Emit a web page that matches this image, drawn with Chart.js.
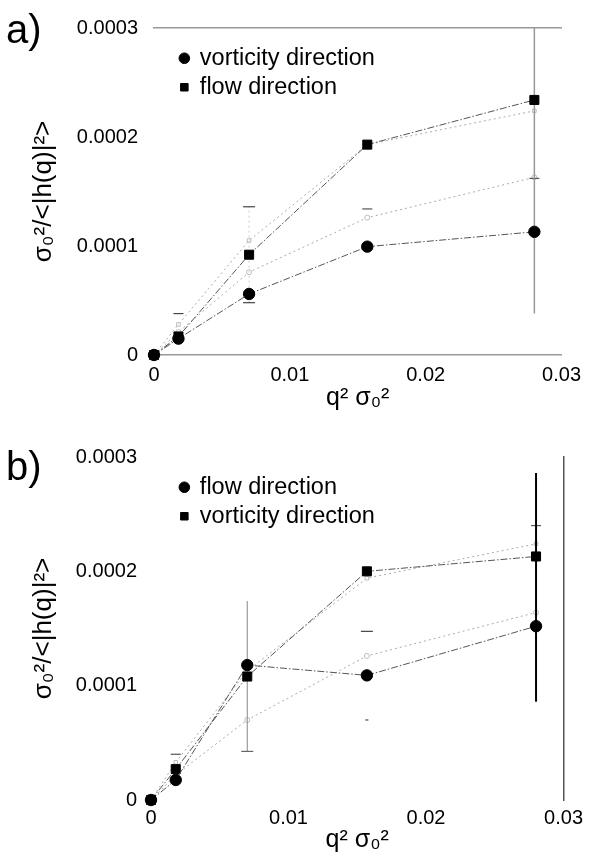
<!DOCTYPE html>
<html>
<head>
<meta charset="utf-8">
<script src="https://cdn.jsdelivr.net/npm/chart.js@4.4.1/dist/chart.umd.min.js"></script>
<style>
  body { margin: 0; background: #fff; }
  #page { position: relative; width: 589px; height: 862px; }
  .panel { position: absolute; left: 0; width: 589px; height: 431px; }
  .tag { position: absolute; font: 40px "Liberation Sans", Arial, sans-serif; line-height: 40px; color: #000; }
</style>
</head>
<body>
<div id="page">
  <div class="panel" style="top:0"><canvas id="chartA"></canvas></div>
  <div class="panel" style="top:431px"><canvas id="chartB"></canvas></div>
  <div class="tag" style="left:6px;top:9px">a)</div>
  <div class="tag" style="left:6px;top:446px">b)</div>
</div>
<script>
// shared axes
const xValues = [0, 0.0018, 0.007, 0.0157, 0.028];
const xTicks = [0, 0.01, 0.02, 0.03];
const yTicks = [0, 0.0001, 0.0002, 0.0003];

// panel a
const aVorticity = [0, 0.000015, 0.000056, 0.0000994, 0.000113];
const aFlow = [0, 0.000017, 0.000092, 0.000193, 0.000234];
const aUpperGray = [0, 0.000028, 0.000105, 0.000193, 0.000224];
const aLowerGray = [0, 0.000021, 0.000076, 0.000126, 0.000163];
const aErrX = [0.0018, 0.007, 0.028];
const aErrLow = [0, 0.000048, 0.000038];
const aErrHigh = [0.000038, 0.000136, 0.00043];
const aCapX = [0.0157, 0.028];
const aCapY = [0.000134, 0.000162];

// panel b
const bFlow = [0, 0.0000175, 0.000118, 0.000109, 0.000152];
const bVorticity = [0, 0.000027, 0.000108, 0.0002, 0.000213];
const bUpperGray = [0, 0.000033, 0.000113, 0.000194, 0.000224];
const bLowerGray = [0, 0.000022, 0.00007, 0.000126, 0.000164];
const bErrX = [0.007, 0.0157, 0.028];
const bErrLow = [0.0000425, 0.00007, 0.000086];
const bErrHigh = [0.000174, 0.0001475, 0.000286];
const bCapX = [0.0018, 0.028];
const bCapY = [0.00004, 0.00024];

Chart.defaults.font.family = '"Liberation Sans", Arial, Helvetica, sans-serif';
Chart.defaults.color = '#000';

const pts = (ys) => xValues.map((x, i) => ({ x: x, y: ys[i] }));

function mainSeries(label, ys, shape) {
  return {
    label: label,
    data: pts(ys),
    pointStyle: shape,
    pointRadius: shape === 'rect' ? 6.4 : 5.7,
    pointBackgroundColor: '#000',
    pointBorderColor: '#000',
    pointBorderWidth: 1,
    borderColor: '#555',
    borderWidth: 1,
    borderDash: [7, 2, 1.5, 2],
    clip: false
  };
}

function graySeries(ys, shape) {
  return {
    label: '',
    data: pts(ys),
    pointStyle: shape,
    pointRadius: 2.5,
    pointBackgroundColor: '#fff',
    pointBorderColor: '#bbb',
    pointBorderWidth: 1,
    borderColor: '#aaa',
    borderWidth: 1,
    borderDash: [2, 3],
    clip: false
  };
}

function errorBar(x, lo, hi, st) {
  return {
    label: '',
    data: [{ x: x, y: lo }, { x: x, y: hi }],
    pointStyle: 'line',
    pointRadius: st.caps,
    pointBorderColor: st.capColor || '#444',
    pointBorderWidth: 1.2,
    borderColor: st.color,
    borderWidth: st.width,
    borderDash: st.dash || [],
    clip: hi > 0.0003 ? 0 : false
  };
}

function caps(xs, ys) {
  return {
    label: '',
    data: xs.map((x, i) => ({ x: x, y: ys[i] })),
    showLine: false,
    pointStyle: 'line',
    pointRadius: 5,
    pointBorderColor: '#555',
    pointBorderWidth: 1.2,
    clip: false
  };
}

// put the legend inside the plot at a fixed spot
function legendAt(x, y) {
  return {
    id: 'legendAt',
    beforeDraw(chart) {
      const lg = chart.legend;
      lg.left = x;
      lg.top = y;
      lg.right = chart.width;
      lg.bottom = chart.height;
    }
  };
}

function makeChart(id, geo, datasets) {
  const scales = {
    x: {
      type: 'linear', position: 'bottom', min: 0, max: 0.03,
      afterBuildTicks: (s) => { s.ticks = xTicks.map((v) => ({ value: v })); },
      afterFit: (s) => { s.height = geo.xHeight; },
      ticks: { callback: (v) => String(v), font: { size: 20 }, padding: geo.xTickPad, maxRotation: 0, autoSkip: false },
      grid: { display: false, drawTicks: false },
      border: { display: geo.bottomLine, color: '#999', width: 1.5 },
      title: { display: true, text: 'q² σ₀²', font: { size: 25 }, padding: { top: 0, bottom: geo.xTitlePad } }
    },
    y: {
      type: 'linear', position: 'left', min: 0, max: 0.0003,
      afterBuildTicks: (s) => { s.ticks = yTicks.map((v) => ({ value: v })); },
      afterFit: (s) => { s.width = geo.yWidth; },
      ticks: { callback: (v) => String(v), font: { size: 20 }, padding: geo.yTickPad },
      grid: { display: false, drawTicks: false },
      border: { display: false },
      title: { display: true, text: 'σ₀²/<|h(q)|²>', font: { size: 26 }, padding: { top: 28, bottom: 0 } }
    }
  };
  if (geo.topLine) {
    scales.xTop = {
      type: 'linear', position: 'top', min: 0, max: 0.03, display: true,
      afterFit: (s) => { s.height = 0; },
      ticks: { display: false },
      grid: { display: false, drawTicks: false },
      border: { display: true, color: '#999', width: 1.5 }
    };
  }
  if (geo.rightLine) {
    scales.yRight = {
      type: 'linear', position: 'right', min: 0, max: 0.0003, display: true,
      afterFit: (s) => { s.width = 0; },
      ticks: { display: false },
      grid: { display: false, drawTicks: false },
      border: { display: true, color: '#555', width: 1.5 }
    };
  }
  return new Chart(document.getElementById(id), {
    type: 'line',
    data: { datasets: datasets },
    options: {
      responsive: true,
      maintainAspectRatio: false,
      animation: false,
      devicePixelRatio: 1,
      events: [],
      layout: { padding: { left: 0, top: geo.top, right: geo.right, bottom: 0 } },
      scales: scales,
      plugins: {
        tooltip: { enabled: false },
        legend: {
          position: 'chartArea',
          align: 'start',
          labels: {
            usePointStyle: true,
            boxWidth: 7.5,
            boxHeight: 7.5,
            padding: 5.5,
            color: '#000',
            font: { size: 23.5 },
            filter: (item) => item.datasetIndex < 2
          }
        }
      }
    },
    plugins: [legendAt(geo.legendX, geo.legendY)]
  });
}

// panel a
const aStyles = [
  { caps: [0, 5], color: 'rgba(0,0,0,0)', width: 1 },
  { caps: [6, 6], color: '#ccc', width: 1, dash: [2, 3] },
  { caps: [0, 0], color: '#999', width: 1.5 }
];
makeChart('chartA',
  { top: 14, right: 21, yWidth: 154, xHeight: 76, xTickPad: 8, yTickPad: 16, xTitlePad: 18,
    bottomLine: true, topLine: true, rightLine: false, legendX: 175.1, legendY: 41 },
  [
    mainSeries('vorticity direction', aVorticity, 'circle'),
    mainSeries('flow direction', aFlow, 'rect'),
    ...aErrX.map((x, i) => errorBar(x, aErrLow[i], aErrHigh[i], aStyles[i])),
    caps(aCapX, aCapY),
    graySeries(aUpperGray, 'rect'),
    graySeries(aLowerGray, 'circle')
  ]);

// panel b
const bStyles = [
  { caps: [6, 0], color: '#888', width: 1, capColor: '#666' },
  { caps: [1.5, 6], color: 'rgba(0,0,0,0)', width: 1 },
  { caps: [0, 0], color: '#000', width: 2 }
];
makeChart('chartB',
  { top: 25, right: 22, yWidth: 151, xHeight: 62, xTickPad: 6, yTickPad: 14, xTitlePad: 6.6,
    bottomLine: false, topLine: false, rightLine: true, legendX: 175.1, legendY: 39 },
  [
    mainSeries('flow direction', bFlow, 'circle'),
    mainSeries('vorticity direction', bVorticity, 'rect'),
    ...bErrX.map((x, i) => errorBar(x, bErrLow[i], bErrHigh[i], bStyles[i])),
    caps(bCapX, bCapY),
    graySeries(bUpperGray, 'rect'),
    graySeries(bLowerGray, 'circle')
  ]);
</script>
</body>
</html>
